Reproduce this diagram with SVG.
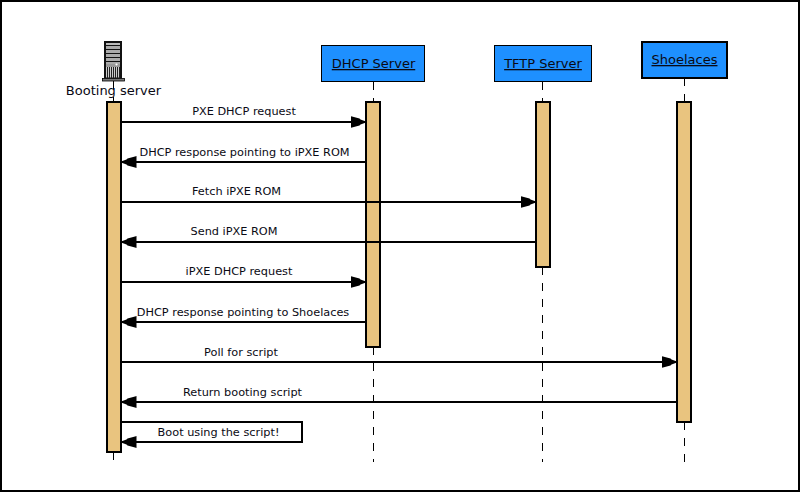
<svg xmlns="http://www.w3.org/2000/svg" width="800" height="493" viewBox="0 0 800 493">
<defs>
<marker id="ah" markerUnits="userSpaceOnUse" markerWidth="17" markerHeight="14" refX="15.500" refY="7" orient="auto"><path d="M0,1L1.500,1.500L9,3.500L10,4.500L15.500,6.500V7.500L10,9.500L9,10.500L1.500,12.500L0,13Z" fill="#000"/></marker>
</defs>
<style>
text{font-family:"DejaVu Sans",sans-serif;fill:#0a0a14}
.msg{font-size:11.300px;text-anchor:middle}
.title{font-size:13px;text-anchor:middle;text-decoration:underline}
.life{stroke:#000;stroke-width:1;stroke-dasharray:8 8;fill:none}
.bar{fill:#e9c47f;stroke:#000;stroke-width:2}
.box{fill:#1e90ff;stroke:#000}
.arrow{stroke:#000;stroke-width:2;fill:none;marker-end:url(#ah)}
</style>
<rect width="800" height="493" fill="#fff"/>
<rect x="1" y="1" width="798" height="490" fill="#fff" stroke="#000" stroke-width="2"/>
<g id="lifelines">
<path class="life" d="M113.500,81V102M113.500,452V462"/>
<path class="life" d="M373.500,82V102M373.500,347V462"/>
<path class="life" d="M542.500,82V102M542.500,267V462"/>
<path class="life" d="M684.500,78V102M684.500,422V462"/>
</g>
<g id="booting-server">
<rect x="104" y="41" width="18" height="37.500" fill="#111"/>
<rect x="106" y="43" width="14" height="2" fill="#bbb"/>
<rect x="106" y="46" width="14" height="18" fill="#aaa"/>
<path d="M106,49.500H120M106,53.500H120M106,57.500H120M106,61.500H120" stroke="#111"/>
<rect x="106" y="64" width="14" height="3" fill="#999"/>
<circle cx="116.500" cy="64.500" r="1.100" fill="#fff"/>
<rect x="106" y="67" width="14" height="10.500" fill="#ccc"/>
<path d="M107.500,67V78M109.500,67V78M111.500,67V78M113.500,67V78M115.500,67V78M117.500,67V78M119.500,67V78" stroke="#222"/>
<rect x="102.500" y="78.500" width="22" height="2.500" fill="#777" stroke="#000" stroke-width=".8"/>
<text x="113.500" y="95" font-size="13" text-anchor="middle">Booting server</text>
<rect class="bar" x="107" y="102" width="14" height="350"/>
</g>
<g id="dhcp-server">
<rect class="box" x="321.500" y="45.500" width="103" height="36"/>
<text class="title" x="373.500" y="68">DHCP Server</text>
<rect class="bar" x="366" y="102" width="14" height="245"/>
</g>
<g id="tftp-server">
<rect class="box" x="494.500" y="45.500" width="97" height="36"/>
<text class="title" x="543" y="68">TFTP Server</text>
<rect class="bar" x="536" y="102" width="14" height="165"/>
</g>
<g id="shoelaces">
<rect class="box" x="642" y="42" width="85" height="36" stroke-width="2"/>
<text class="title" x="684.500" y="64">Shoelaces</text>
<rect class="bar" x="677" y="102" width="14" height="320"/>
</g>
<g id="connectors">
<line class="arrow" x1="121" y1="122" x2="366" y2="122"/>
<line class="arrow" x1="366" y1="162" x2="121" y2="162"/>
<line class="arrow" x1="121" y1="202" x2="536" y2="202"/>
<line class="arrow" x1="536" y1="242" x2="121" y2="242"/>
<line class="arrow" x1="121" y1="282" x2="366" y2="282"/>
<line class="arrow" x1="366" y1="322" x2="121" y2="322"/>
<line class="arrow" x1="121" y1="362" x2="677" y2="362"/>
<line class="arrow" x1="677" y1="402" x2="121" y2="402"/>
<path class="arrow" d="M121,422H302V442H121"/>
</g>
<g id="labels">
<text class="msg" x="244" y="115">PXE DHCP request</text>
<text class="msg" x="244.500" y="156">DHCP response pointing to iPXE ROM</text>
<text class="msg" x="236.500" y="195">Fetch iPXE ROM</text>
<text class="msg" x="234" y="235">Send iPXE ROM</text>
<text class="msg" x="239" y="275">iPXE DHCP request</text>
<text class="msg" x="243" y="316">DHCP response pointing to Shoelaces</text>
<text class="msg" x="241" y="356">Poll for script</text>
<text class="msg" x="242.500" y="396">Return booting script</text>
<text class="msg" x="218.500" y="436">Boot using the script!</text>
</g>
</svg>
